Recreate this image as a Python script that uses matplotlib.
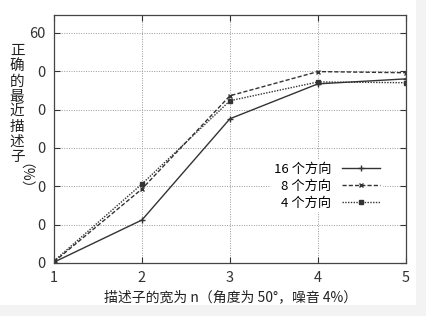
import matplotlib
matplotlib.use('Agg')
import matplotlib.pyplot as plt
from matplotlib.patches import Rectangle

plt.rcParams['font.family'] = ['Noto Sans CJK SC', 'DejaVu Sans']

x = [1, 2, 3, 4, 5]
dir16 = [0.02, 1.12, 3.76, 4.67, 4.80]
dir8 = [0.03, 1.93, 4.36, 4.99, 4.96]
dir4 = [0.05, 2.06, 4.23, 4.72, 4.70]
yticks = [0, 1, 2, 3, 4, 5, 6]
yticklabels = ['0', '0', '0', '0', '0', '0', '60']
xticks = [1, 2, 3, 4, 5]

fig = plt.figure(figsize=(4.27, 3.16), dpi=100)
fig.patch.set_facecolor('#f3f3f3')
# white area behind the plot and the label
bg = Rectangle((0, 0.035), 0.975, 0.965, transform=fig.transFigure,
               facecolor='white', edgecolor='none', zorder=-10)
fig.add_artist(bg)
ax = fig.add_axes([0.1265, 0.168, 0.824, 0.785])

ax.plot(x, dir16, color='#333333', linestyle='-', linewidth=1.0,
        marker='+', markersize=4, label='16 个方向')
ax.plot(x, dir8, color='#333333', linestyle=(0, (3, 1.5)), linewidth=1.0,
        marker='x', markersize=3.5, label='8 个方向')
ax.plot(x, dir4, color='#333333', linestyle=(0, (1, 1)), linewidth=1.0,
        marker='s', markersize=3, label='4 个方向')

ax.set_xlim(1, 5)
ax.set_ylim(0, 6.47)
ax.set_xticks(xticks)
ax.set_yticks(yticks)
ax.set_yticklabels(yticklabels)
ax.tick_params(direction='in', length=4, top=True, right=True,
               labelsize=10.5, colors='#333333', pad=6)
ax.grid(True, color='#999999', linestyle=(0, (1, 1.5)), linewidth=0.7)
for s in ax.spines.values():
    s.set_color('#444444')
    s.set_linewidth(0.9)

leg = ax.legend(loc='center right', bbox_to_anchor=(0.935, 0.31), markerfirst=False,
                frameon=True, fontsize=9.5, handlelength=2.9, labelspacing=0.3,
                borderaxespad=0, borderpad=0.2, edgecolor='none', fancybox=False,
                framealpha=1)
for t in leg.get_texts():
    t.set_ha('right')

fig.text(0.04, 0.86, '正\n确\n的\n最\n近\n描\n述\n子', ha='center', va='top',
         fontsize=10.5, linespacing=1.1, color='#222222')
fig.text(0.04, 0.485, '（%）', ha='center', va='top', rotation=-90,
         fontsize=10, color='#222222')
fig.text(0.54, 0.06, '描述子的宽为 n（角度为 50°，噪音 4%）', ha='center', va='center',
         fontsize=10, color='#222222')

fig.savefig('out.png', dpi=100)
